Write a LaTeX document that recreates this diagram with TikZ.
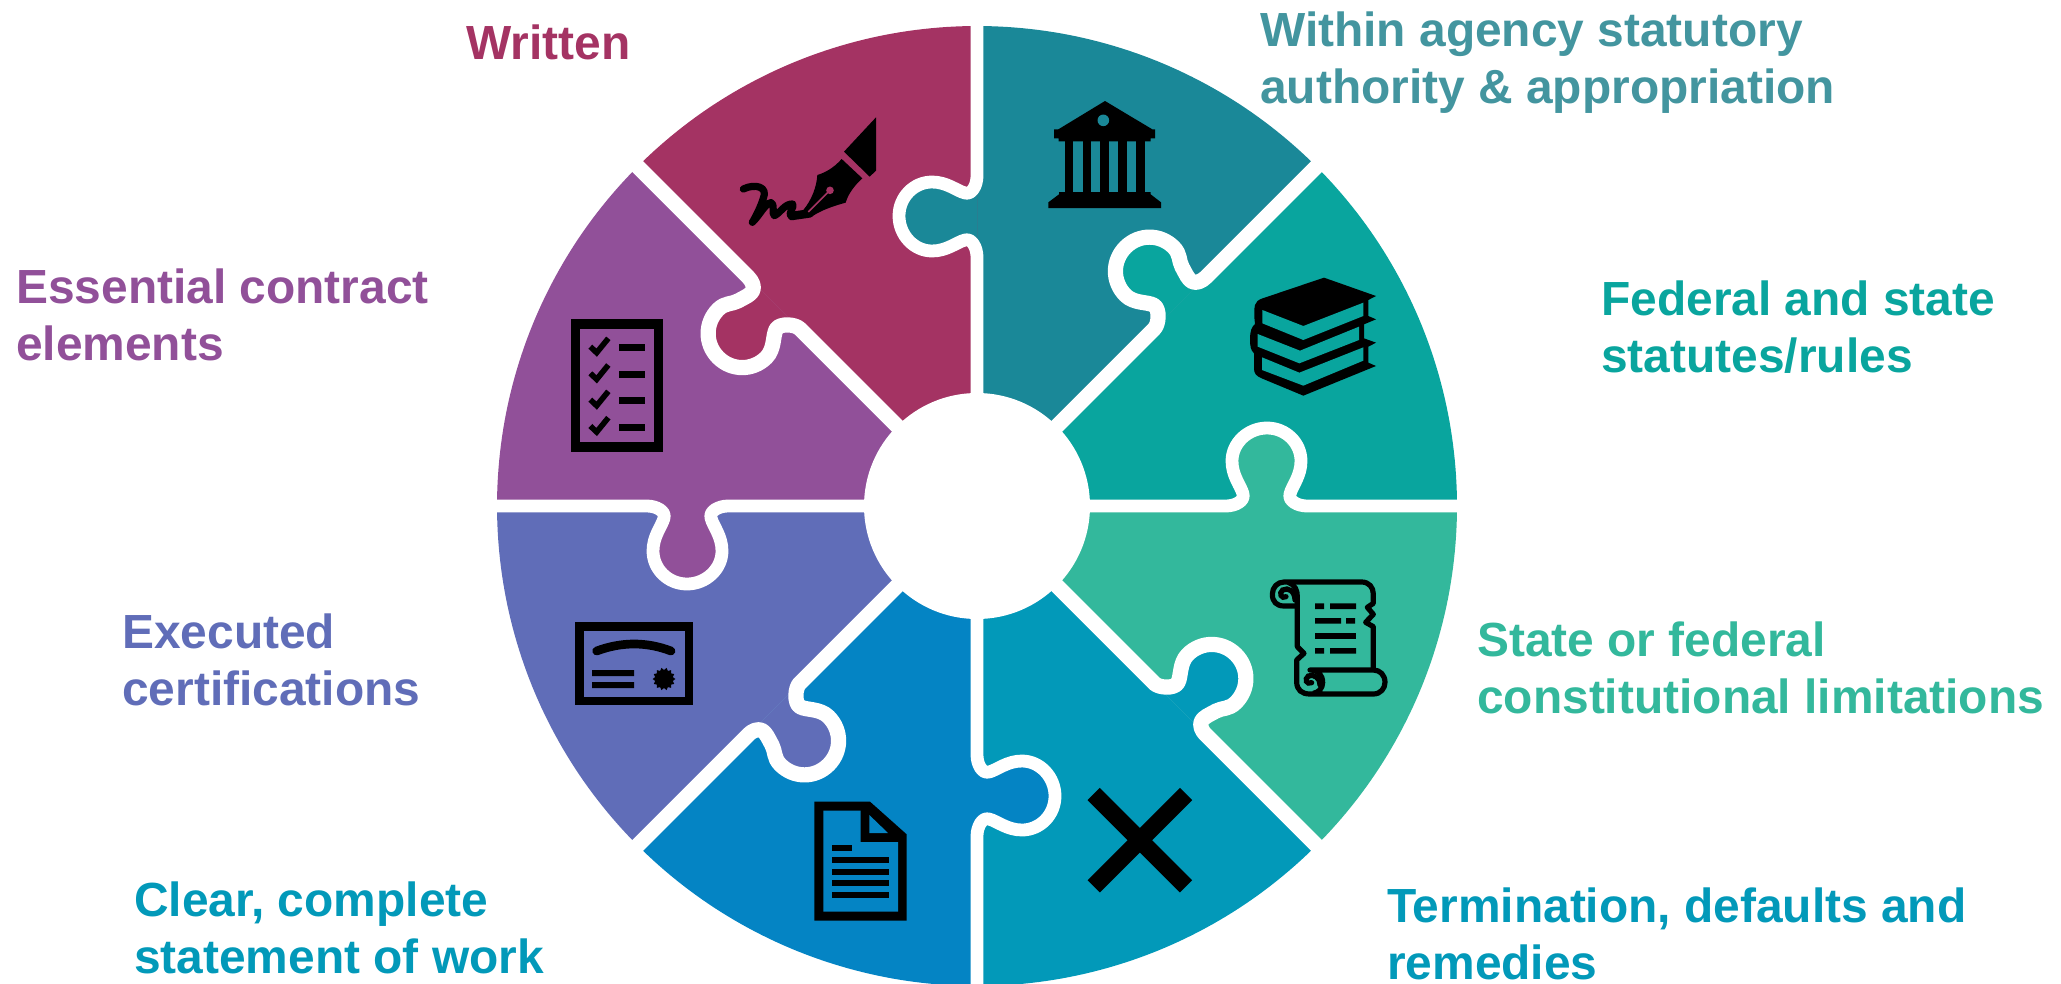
\documentclass[tikz,border=0pt]{standalone}
\usepackage{fontspec}
\setmainfont{Liberation Sans}
\definecolor{cMaroon}{HTML}{A43363}
\definecolor{cPurple}{HTML}{915099}
\definecolor{cIndigo}{HTML}{606DB8}
\definecolor{cBlue}{HTML}{0484C4}
\definecolor{cBlueTeal}{HTML}{0299B9}
\definecolor{cGreen}{HTML}{33B89C}
\definecolor{cTealB}{HTML}{09A59E}
\definecolor{cTealA}{HTML}{1A8898}
\definecolor{cWithin}{HTML}{43959F}
\newcommand{\tabS}{(0,-249) .. controls (0,-258) and (-5,-268) .. (-12,-266) .. controls (-20,-264) and (-30,-255) .. (-45,-255) .. controls (-63,-255) and (-78,-271) .. (-78,-290) .. controls (-78,-309) and (-63,-324) .. (-45,-324) .. controls (-30,-324) and (-20,-315) .. (-12,-313) .. controls (-5,-311) and (0,-321) .. (0,-330)}
\newcommand{\tabD}{(0,-251) .. controls (0,-257) and (-10,-269) .. (-17,-267) .. controls (-24,-265) and (-32,-254) .. (-44,-254) .. controls (-63,-254) and (-78,-269) .. (-78,-288) .. controls (-78,-307) and (-63,-322) .. (-44,-322) .. controls (-34,-322) and (-31,-316) .. (-24,-314) .. controls (-17,-312) and (-10,-309) .. (-6,-311) .. controls (-2,-313) and (0,-318) .. (0,-323)}
\tikzset{
  label text/.style={anchor=base west,inner sep=0pt,align=left,font=\fontsize{47.9}{57}\selectfont\bfseries},
  zoomed/.style={x=0.33333pt,y=-0.33333pt},
  seam line/.style={draw=white,line width=12.8pt,line join=round},
  diagonal seam line/.style={draw=white,line width=15.2pt,line join=round}
}
\begin{document}
\begin{tikzpicture}[x=1pt,y=-1pt]
\useasboundingbox (0,0) rectangle (2061,983);
\clip (0,0) rectangle (2061,983);
% wedges
\foreach \k/\c in {0/cTealA,1/cTealB,2/cGreen,3/cBlueTeal,4/cBlue,5/cIndigo,6/cPurple,7/cMaroon}{
  \begin{scope}[shift={(977,506)},rotate=-45*\k]
    \fill[\c] (0,0) -- plot[domain=0:45,samples=50] ({480*sin(\x)},{-480*cos(\x)}) -- cycle;
  \end{scope}
}
% tabs and seams
\foreach \k/\c in {0/cTealA,2/cGreen,4/cBlue,6/cPurple}{
  \begin{scope}[shift={(977,506)},rotate=-45*\k]
    \fill[\c] \tabS -- cycle;
  \end{scope}
}
\foreach \k/\c in {1/cTealB,3/cBlueTeal,5/cIndigo,7/cMaroon}{
  \begin{scope}[shift={(977,506)},rotate=-45*\k]
    \fill[\c] \tabD -- cycle;
  \end{scope}
}
\foreach \k in {0,2,4,6}{
  \begin{scope}[shift={(977,506)},rotate=-45*\k]
    \path[seam line] (0,-100) -- \tabS -- (0,-490);
  \end{scope}
}
\foreach \k in {1,3,5,7}{
  \begin{scope}[shift={(977,506)},rotate=-45*\k]
    \path[diagonal seam line] (0,-100) -- \tabD -- (0,-490);
  \end{scope}
}
\fill[white] (977,506) circle[radius=113];
% pen
\begin{scope}[shift={(640,10)},zoomed]
  \fill (708,322) -- (708,482) -- (689,500) -- (612,425) -- cycle;
  \fill (605,447) .. controls (580,475) and (555,488) .. (532,495) .. controls (530,530) and (515,570) .. (490,600) -- (455,605) -- (455,628) -- (515,620) .. controls (545,600) and (580,588) .. (617,578) .. controls (625,550) and (645,525) .. (667,505) -- cycle;
  \draw[line width=7.2pt,line cap=round,line join=round] (310,537) .. controls (345,520) and (385,530) .. (370,565) .. controls (362,590) and (350,615) .. (337,637) .. controls (360,615) and (375,580) .. (393,578) .. controls (405,578) and (395,615) .. (403,617) .. controls (420,610) and (435,580) .. (458,582) .. controls (465,590) and (440,615) .. (455,620) -- (510,612);
  \draw[cMaroon,line width=1.6pt] (505,606) -- (570,541);
  \fill[cMaroon] (570,541) circle[radius=3.8pt];
\end{scope}
% bank
\begin{scope}[shift={(980,10)},zoomed]
  \fill (375,273) -- (517,358) -- (525,358) -- (525,385) -- (512,385) -- (512,394) -- (236,394) -- (236,385) -- (222,385) -- (222,358) -- (235,358) -- cycle;
  \fill[cTealA] (370,331) circle[radius=5.8pt];
  \foreach \a/\b in {255/280,308/334,361/387,415/441,468/495}{\fill (\a,394) rectangle (\b,546);}
  \fill (237,546) -- (512,546) -- (512,553) -- (543,577) -- (543,594) -- (205,594) -- (205,577) -- (237,553) -- cycle;
\end{scope}
% books
\begin{scope}[shift={(980,10)},zoomed]
  \fill[line join=round] (1032,803) -- (1188,858) -- (1165,870) -- (1165,918) -- (1188,928) -- (1152,943) -- (1152,985) -- (1188,998) -- (1165,1010) -- (1165,1058) -- (1188,1068) -- (970,1157) -- (845,1105) .. controls (828,1098) and (822,1090) .. (822,1075) -- (822,1030) .. controls (812,1020) and (810,1010) .. (810,985) .. controls (810,965) and (815,950) .. (825,942) .. controls (822,920) and (822,895) .. (825,885) .. controls (828,875) and (835,870) .. (845,866) -- cycle;
  \fill[cTealB] (847,900) -- (970,948) -- (1150,878) -- (1150,918) -- (970,990) -- (847,940) -- cycle;
  \fill[cTealB] (833,972) -- (960,1022) -- (1137,950) -- (1137,990) -- (958,1060) -- (833,1010) -- cycle;
  \fill[cTealB] (846,1042) -- (958,1088) -- (1150,1012) -- (1150,1052) -- (970,1127) -- (846,1080) -- cycle;
\end{scope}
% scroll
\begin{scope}[shift={(980,500)},zoomed]
  \draw[line width=5.2pt,line join=round] (945,318) -- (912,318) .. controls (890,318) and (877,305) .. (877,283) .. controls (877,262) and (892,246) .. (912,246) -- (1145,246) .. controls (1167,246) and (1180,262) .. (1180,282) -- (1180,310) -- (1162,322) -- (1180,343) -- (1157,367) -- (1180,380) -- (1180,508);
  \draw[line width=5.2pt,line join=round] (925,247) .. controls (945,255) and (952,270) .. (952,290) -- (952,440) -- (972,460) -- (950,480) -- (950,545) .. controls (950,570) and (965,582) .. (990,582) -- (1180,582) .. controls (1202,582) and (1215,565) .. (1215,547) .. controls (1215,525) and (1200,510) .. (1180,510) -- (990,510) .. controls (1015,510) and (1028,525) .. (1028,548) .. controls (1028,565) and (1015,578) .. (1000,580);
  \draw[line width=5.2pt,line cap=round] (945,300) .. controls (945,275) and (925,260) .. (908,270) .. controls (895,280) and (905,298) .. (918,290);
  \draw[line width=5.2pt,line cap=round] (1020,555) .. controls (1022,535) and (1000,520) .. (985,528) .. controls (972,538) and (980,555) .. (995,548);
  \fill (1005,310) rectangle (1032,327) (1050,310) rectangle (1128,327);
  \fill (1005,354) rectangle (1083,371) (1098,354) rectangle (1125,371);
  \fill (1005,399) rectangle (1128,416);
  \fill (1005,444) rectangle (1032,461) (1050,444) rectangle (1128,461);
\end{scope}
% cross
\begin{scope}[shift={(980,500)},zoomed]
  \draw[line width=17.3pt] (341,882) -- (618,1159);
  \draw[line width=17.3pt] (618,882) -- (341,1159);
\end{scope}
% document
\begin{scope}[shift={(490,500)},zoomed]
  \fill (973,905) -- (1140,905) -- (1250,1003) -- (1250,1262) -- (973,1262) -- cycle;
  \fill[cBlue] (1000,932) -- (1112,932) -- (1112,1026) -- (1224,1026) -- (1224,1235) -- (1000,1235) -- cycle;
  \fill[cBlue] (1138,945) -- (1138,999) -- (1194,999) -- cycle;
  \fill (1026,1035) rectangle (1086,1053);
  \foreach \a in {1071,1107,1140,1176}{\fill (1026,\a) rectangle (1197,\a+18);}
\end{scope}
% certificate
\begin{scope}[shift={(490,500)},zoomed]
  \fill (255,367) rectangle (610,616);
  \fill[cIndigo] (281,393) rectangle (584,590);
  \draw[line width=8.7pt,line cap=round] (320,453) .. controls (395,425) and (470,425) .. (543,453);
  \fill (306,510) rectangle (432,528) (306,546) rectangle (432,564);
  \fill plot[samples at={0,...,27}] ({522+(30.5+3.5*cos(\x*180))*cos(\x*360/28)},{537+(30.5+3.5*cos(\x*180))*sin(\x*360/28)}) -- cycle;
\end{scope}
% checklist
\begin{scope}[shift={(490,150)},zoomed]
  \fill (242,508) rectangle (518,906);
  \fill[cPurple] (269,538) rectangle (491,877);
  \foreach \a/\b in {582/0,662/80,741/159,822/238}{
    \fill (387,\a) rectangle (465,\a+21);
    \draw[line width=5.6pt] (301,\b+590) -- (320,\b+608) -- (355,\b+565);
  }
\end{scope}
% labels
\node[label text,text=cMaroon] (written) at (466,59) {Written};
\node[label text,text=cWithin] (within) at (1260,103) {Within agency statutory\\authority \& appropriation};
\node[label text,text=cTealB] (federal) at (1601,372) {Federal and state\\statutes/rules};
\node[label text,text=cGreen] (state) at (1477,713) {State or federal\\constitutional limitations};
\node[label text,text=cBlueTeal] (termination) at (1387,979) {Termination, defaults and\\remedies};
\node[label text,text=cBlueTeal] (clear) at (134,973) {Clear, complete\\statement of work};
\node[label text,text=cIndigo] (executed) at (122,705) {Executed\\certifications};
\node[label text,text=cPurple] (essential) at (16,360) {Essential contract\\elements};
\end{tikzpicture}
\end{document}
